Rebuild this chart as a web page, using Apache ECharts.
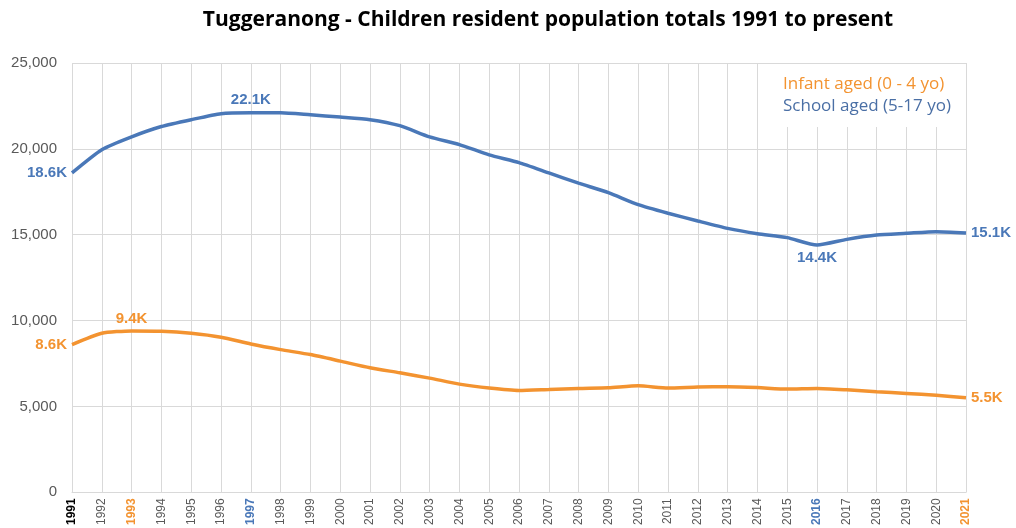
<!DOCTYPE html>
<html>
<head>
<meta charset="utf-8">
<script src="https://cdn.jsdelivr.net/npm/echarts@6/dist/echarts.min.js"></script>
<style>
  html, body { margin: 0; padding: 0; background: #fff; }
  #main { width: 1016px; height: 528px; }
</style>
</head>
<body>
<div id="main"></div>
<script>
// years on the x axis
var years = ['1991','1992','1993','1994','1995','1996','1997','1998','1999','2000',
  '2001','2002','2003','2004','2005','2006','2007','2008','2009','2010',
  '2011','2012','2013','2014','2015','2016','2017','2018','2019','2020','2021']

// Infant aged (0 - 4 yo)
var infant = [8600, 9260, 9400, 9380, 9260, 9030, 8640, 8310, 8020, 7640,
  7250, 6960, 6650, 6300, 6070, 5930, 5990, 6050, 6090, 6200,
  6070, 6130, 6150, 6100, 6010, 6050, 5970, 5860, 5760, 5650, 5500]

// School aged (5-17 yo)
var school = [18600, 19950, 20700, 21300, 21700, 22050, 22100, 22100, 21980, 21850,
  21700, 21350, 20700, 20250, 19650, 19200, 18600, 18000, 17450, 16750,
  16250, 15800, 15370, 15060, 14830, 14400, 14730, 14980, 15080, 15180, 15100]

var yTicks = [0, 5000, 10000, 15000, 20000, 25000]

// which points carry a value label, and where
var infantLabels = { 0: 'left', 2: 'top', 30: 'right' }
var schoolLabels = { 0: 'left', 6: 'top', 25: 'bottom', 30: 'right' }

// highlighted year labels on the x axis
var yearStyle = { '1991': 'blk', '1993': 'org', '1997': 'blu', '2016': 'blu', '2021': 'org' }

var BLUE = '#4a78b8'
var ORANGE = '#f39330'

function withLabels(values, where, color) {
  return values.map(function (v, i) {
    if (!where[i]) return v
    return {
      value: v,
      label: {
        show: true,
        position: where[i],
        distance: 5,
        formatter: function (p) { return (p.value / 1000).toFixed(1) + 'K' },
        color: color,
        fontFamily: 'Arial, Liberation Sans, sans-serif',
        fontWeight: 'bold',
        fontSize: 15
      }
    }
  })
}

var myChart = echarts.init(document.getElementById('main'))
myChart.setOption({
  animation: false,
  backgroundColor: '#fff',
  title: {
    text: 'Tuggeranong - Children resident population totals 1991 to present',
    left: 543,
    top: 5,
    textAlign: 'center',
    textStyle: {
      fontFamily: 'Open Sans, sans-serif',
      fontWeight: 'bold',
      fontSize: 21,
      color: '#000'
    }
  },
  legend: {
    orient: 'vertical',
    left: 768,
    top: 64,
    icon: 'none',
    itemWidth: 0,
    itemGap: 5,
    padding: [12, 14, 12, 10],
    backgroundColor: '#fff',
    selectedMode: false,
    textStyle: { fontFamily: 'Open Sans, sans-serif', fontSize: 17 },
    data: [
      { name: 'Infant aged (0 - 4 yo)', textStyle: { color: ORANGE } },
      { name: 'School aged (5-17 yo)', textStyle: { color: '#4a6fa5' } }
    ]
  },
  grid: { left: 72, right: 50, top: 63, bottom: 34 },
  xAxis: {
    type: 'category',
    data: years,
    boundaryGap: false,
    axisLine: { lineStyle: { color: '#d9d9d9' } },
    axisTick: { show: false },
    splitLine: { show: true, lineStyle: { color: '#d9d9d9' } },
    axisLabel: {
      rotate: 90,
      interval: 0,
      margin: 6,
      color: '#595959',
      fontFamily: 'Arial, Liberation Sans, sans-serif',
      fontSize: 12,
      formatter: function (v) {
        return yearStyle[v] ? '{' + yearStyle[v] + '|' + v + '}' : v
      },
      rich: {
        blk: { color: '#000', fontWeight: 'bold', fontSize: 12 },
        org: { color: ORANGE, fontWeight: 'bold', fontSize: 12 },
        blu: { color: BLUE, fontWeight: 'bold', fontSize: 12 }
      }
    }
  },
  yAxis: {
    type: 'value',
    min: yTicks[0],
    max: yTicks[yTicks.length - 1],
    interval: 5000,
    axisLine: { show: false },
    axisTick: { show: false },
    splitLine: { lineStyle: { color: '#d9d9d9' } },
    axisLabel: {
      margin: 15,
      color: '#595959',
      fontFamily: 'Arial, Liberation Sans, sans-serif',
      fontSize: 15,
      formatter: function (v) { return v.toLocaleString('en-US') }
    }
  },
  series: [
    {
      name: 'Infant aged (0 - 4 yo)',
      type: 'line',
      smooth: 0.2,
      symbol: 'circle',
      symbolSize: 0,
      showSymbol: true,
      color: ORANGE,
      lineStyle: { width: 3.5, color: ORANGE },
      data: withLabels(infant, infantLabels, ORANGE)
    },
    {
      name: 'School aged (5-17 yo)',
      type: 'line',
      smooth: 0.2,
      symbol: 'circle',
      symbolSize: 0,
      showSymbol: true,
      color: BLUE,
      lineStyle: { width: 3.5, color: BLUE },
      data: withLabels(school, schoolLabels, BLUE)
    }
  ]
})
</script>
</body>
</html>
